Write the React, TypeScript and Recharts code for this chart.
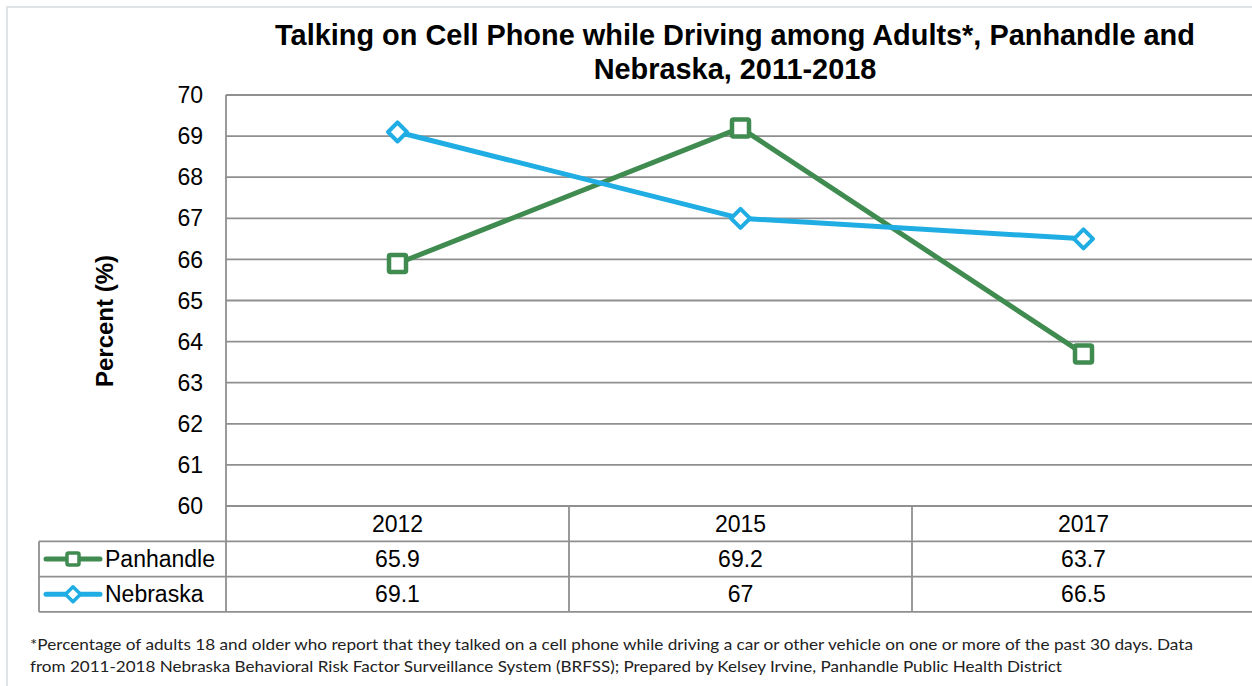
import React from 'react';
import { CartesianGrid, Line, LineChart, XAxis, YAxis } from 'recharts';

// datos
const YEARS = ['2012', '2015', '2017'];
const PANHANDLE = [65.9, 69.2, 63.7];
const NEBRASKA = [69.1, 67, 66.5];
const Y_TICKS = [60, 61, 62, 63, 64, 65, 66, 67, 68, 69, 70];

const SERIES = [
  { key: 'panhandle', name: 'Panhandle', values: PANHANDLE, color: '#3F8B50', shape: 'square' },
  { key: 'nebraska', name: 'Nebraska', values: NEBRASKA, color: '#1FADE3', shape: 'diamond' },
];

const rows = YEARS.map((year, i) => ({
  year,
  panhandle: PANHANDLE[i],
  nebraska: NEBRASKA[i],
}));

const FONT = '"Liberation Sans", Arial, sans-serif';
const GRID = '#8f8f8f';
const CHART_W = 1260;
const PLOT_LEFT = 226;
const PLOT_RIGHT = 1255;
const ROW_H = 35.3;
const TABLE_LEFT = 39;

function Marker({ cx, cy, color, shape, small = false }: any) {
  if (cx == null || cy == null) return null;
  if (shape === 'square') {
    const s = small ? 12 : 17;
    return (
      <rect
        x={cx - s / 2}
        y={cy - s / 2}
        width={s}
        height={s}
        rx={1.5}
        fill="#fff"
        stroke={color}
        strokeWidth={small ? 3.5 : 4.5}
      />
    );
  }
  const r = small ? 7.5 : 9.5;
  return (
    <path
      d={`M${cx},${cy - r} L${cx + r},${cy} L${cx},${cy + r} L${cx - r},${cy} Z`}
      fill="#fff"
      stroke={color}
      strokeWidth={small ? 3.5 : 4}
      strokeLinejoin="round"
    />
  );
}

// la tabla de datos bajo el eje X, una columna por categoría
function TableTick(props: any) {
  const { x, y, payload, index } = props;
  const half = (PLOT_RIGHT - PLOT_LEFT) / YEARS.length / 2;
  const i = payload.index ?? index;
  const left = x - half;
  const right = x + half;
  const bottom = y + ROW_H * 3;
  const txt = { fontFamily: FONT, fontSize: 23, fill: '#000', textAnchor: 'middle' as const, dominantBaseline: 'central' as const };
  return (
    <g>
      <text x={x} y={y + ROW_H / 2} {...txt}>{payload.value}</text>
      {SERIES.map((s, k) => (
        <text key={s.key} x={x} y={y + ROW_H * (k + 1.5)} {...txt}>
          {String(s.values[i])}
        </text>
      ))}
      {[1, 2, 3].map((k) => (
        <line key={k} x1={left} x2={right} y1={y + ROW_H * k} y2={y + ROW_H * k} stroke={GRID} strokeWidth={1.8} />
      ))}
      <line x1={right} x2={right} y1={y} y2={bottom} stroke={GRID} strokeWidth={1.8} />
      {i === 0 && (
        <g>
          <line x1={left} x2={left} y1={y} y2={bottom} stroke={GRID} strokeWidth={1.8} />
          <line x1={TABLE_LEFT} x2={TABLE_LEFT} y1={y + ROW_H} y2={bottom} stroke={GRID} strokeWidth={1.8} />
          {[1, 2, 3].map((k) => (
            <line key={k} x1={TABLE_LEFT} x2={left} y1={y + ROW_H * k} y2={y + ROW_H * k} stroke={GRID} strokeWidth={1.8} />
          ))}
          {SERIES.map((s, k) => {
            const cy = y + ROW_H * (k + 1.5);
            return (
              <g key={s.key}>
                <line x1={46} x2={100} y1={cy} y2={cy} stroke={s.color} strokeWidth={5} strokeLinecap="round" />
                <Marker cx={73} cy={cy} color={s.color} shape={s.shape} small />
                <text x={105} y={cy} fontFamily={FONT} fontSize={23} fill="#000" dominantBaseline="central">
                  {s.name}
                </text>
              </g>
            );
          })}
        </g>
      )}
    </g>
  );
}

export default function App() {
  return (
    <div
      style={{
        position: 'absolute',
        left: 0,
        top: 0,
        width: 1252,
        height: 686,
        overflow: 'hidden',
        background: '#fff',
        fontFamily: FONT,
      }}
    >
      <div
        style={{
          position: 'absolute',
          left: 6,
          top: 6,
          width: 1300,
          height: 700,
          borderLeft: '2px solid #dfe3e6',
          borderTop: '2px solid #dfe3e6',
        }}
      />
      <div
        style={{
          position: 'absolute',
          left: 235,
          width: 1000,
          top: 18,
          textAlign: 'center',
          fontWeight: 'bold',
          fontSize: 28.9,
          lineHeight: '34px',
          color: '#000',
        }}
      >
        Talking on Cell Phone while Driving among Adults*, Panhandle and
        <br />
        Nebraska, 2011-2018
      </div>
      <div
        style={{
          position: 'absolute',
          left: 105,
          top: 321,
          transform: 'translate(-50%, -50%) rotate(-90deg)',
          whiteSpace: 'nowrap',
          fontWeight: 'bold',
          fontSize: 24,
          color: '#000',
        }}
      >
        Percent (%)
      </div>
      <div style={{ position: 'absolute', left: 0, top: 0 }}>
        <LineChart
          width={CHART_W}
          height={686}
          data={rows}
          margin={{ top: 95, right: CHART_W - PLOT_RIGHT, bottom: 0, left: 0 }}
        >
          <CartesianGrid vertical={false} stroke={GRID} strokeWidth={1.8} />
          <XAxis
            dataKey="year"
            scale="band"
            height={180}
            axisLine={{ stroke: GRID, strokeWidth: 1.8 }}
            tickLine={false}
            tickSize={0}
            tickMargin={0}
            interval={0}
            tick={<TableTick />}
          />
          <YAxis
            width={PLOT_LEFT}
            domain={[60, 70]}
            ticks={Y_TICKS}
            interval={0}
            axisLine={{ stroke: GRID, strokeWidth: 1.8 }}
            tickLine={false}
            tickSize={0}
            tickMargin={23}
            tick={{ fontFamily: FONT, fontSize: 23, fill: '#000' }}
          />
          {SERIES.map((s) => (
            <Line
              key={s.key}
              dataKey={s.key}
              name={s.name}
              type="linear"
              stroke={s.color}
              strokeWidth={5}
              isAnimationActive={false}
              dot={(p: any) => <Marker key={`${s.key}-${p.index}`} cx={p.cx} cy={p.cy} color={s.color} shape={s.shape} />}
              activeDot={false}
            />
          ))}
        </LineChart>
      </div>
      <svg style={{ position: 'absolute', left: 0, top: 630 }} width={1252} height={56}>
        <text x={30} y={20} fontFamily='"Lato", sans-serif' fontSize={16} fill="#222" textLength={1163} lengthAdjust="spacingAndGlyphs">
          *Percentage of adults 18 and older who report that they talked on a cell phone while driving a car or other vehicle on one or more of the past 30 days. Data
        </text>
        <text x={30} y={42} fontFamily='"Lato", sans-serif' fontSize={16} fill="#222" textLength={1032} lengthAdjust="spacingAndGlyphs">
          from 2011-2018 Nebraska Behavioral Risk Factor Surveillance System (BRFSS); Prepared by Kelsey Irvine, Panhandle Public Health District
        </text>
      </svg>
    </div>
  );
}
